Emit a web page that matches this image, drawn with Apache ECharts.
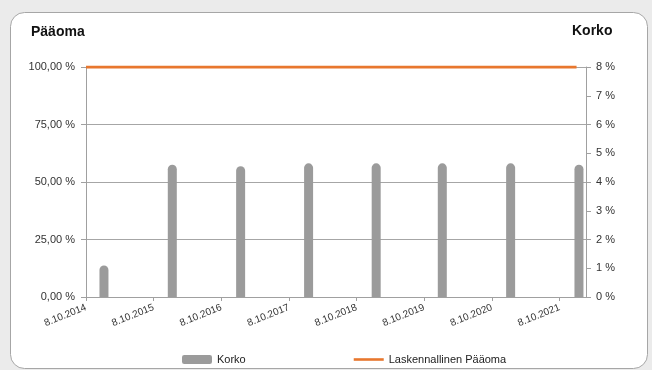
<!DOCTYPE html>
<html><head><meta charset="utf-8">
<script src="https://cdn.jsdelivr.net/npm/echarts@6/dist/echarts.min.js"></script>
<style>html,body{margin:0;padding:0;background:#ebebeb}#c{width:652px;height:370px}</style>
</head><body><div id="c"></div><script>
const tickLabels = ['8.10.2014','8.10.2015','8.10.2016','8.10.2017','8.10.2018','8.10.2019','8.10.2020','8.10.2021'];
const barDates = ['2015-01-13','2016-01-17','2017-01-20','2018-01-22','2019-01-22','2020-01-14','2021-01-17','2022-01-21'];
const korkoValues = [1.1, 4.6, 4.55, 4.65, 4.65, 4.65, 4.65, 4.6];
const lineDates = ['2014-10-08','2015-10-08','2016-10-08','2017-10-08','2018-10-08','2019-10-08','2020-10-08','2021-10-08','2022-01-08'];
const paaomaValues = [100, 100, 100, 100, 100, 100, 100, 100, 100];
const leftTicks = [0, 25, 50, 75, 100];
const rightTicks = [0, 1, 2, 3, 4, 5, 6, 7, 8];

function parseFi(s){ const p = s.split('.').map(Number); return Date.UTC(p[2], p[1]-1, p[0]); }
function parseIso(s){ const p = s.split('-').map(Number); return Date.UTC(p[0], p[1]-1, p[2]); }
const tickTs = tickLabels.map(parseFi);
function labelFor(v){
  let best = 0, bd = Infinity;
  tickTs.forEach((t,i)=>{ const d = Math.abs(t - v); if (d < bd) { bd = d; best = i; } });
  return bd < 86400000 ? tickLabels[best] : '';
}

const FONT = "'Liberation Sans', Arial, sans-serif";
const chart = echarts.init(document.getElementById('c'));
chart.setOption({
  animation: false,
  backgroundColor: '#ebebeb',
  textStyle: { fontFamily: FONT },
  graphic: [
    { type: 'rect', z: -10, shape: { x: 10.5, y: 12.5, width: 637, height: 356, r: 14 },
      style: { fill: '#ffffff', stroke: '#a6a6a6', lineWidth: 1 } },
    { type: 'text', left: 31, top: 25, style: { text: 'Pääoma', font: "bold 14px " + FONT, fill: '#111' } },
    { type: 'text', left: 572, top: 24, style: { text: 'Korko', font: "bold 14px " + FONT, fill: '#111' } }
  ],
  grid: { left: 86, right: 66, top: 67, bottom: 73 },
  legend: {
    left: 177, top: 349, itemWidth: 30, itemHeight: 9, itemGap: 108,
    textStyle: { fontSize: 11, color: '#222', fontFamily: FONT },
    data: [
      { name: 'Korko', icon: 'roundRect' },
      { name: 'Laskennallinen Pääoma', icon: 'path://M0,0 L0,0 M0,3.2 L30,3.2 L30,5.8 L0,5.8 Z M30,9 L30,9' }
    ]
  },
  xAxis: {
    type: 'value',
    min: tickTs[0],
    max: Date.UTC(2022, 1, 28),
    axisLine: { lineStyle: { color: '#a0a0a0' } },
    axisTick: { show: true, length: 4, lineStyle: { color: '#a0a0a0' }, customValues: tickTs },
    axisLabel: {
      customValues: tickTs, rotate: 22, fontSize: 10, color: '#333', margin: 10,
      formatter: function (v) { return labelFor(v); }
    },
    splitLine: { show: false }
  },
  yAxis: [
    {
      type: 'value', position: 'left', min: leftTicks[0], max: leftTicks[leftTicks.length-1], interval: 25,
      axisLine: { show: true, lineStyle: { color: '#a0a0a0' } },
      axisTick: { show: true, length: 5, lineStyle: { color: '#a0a0a0' } },
      axisLabel: { fontSize: 11, color: '#333', margin: 11,
        formatter: function (v) { return v.toFixed(2).replace('.', ',') + ' %'; } },
      splitLine: { show: true, lineStyle: { color: '#a6a6a6', width: 1 } }
    },
    {
      type: 'value', position: 'right', min: rightTicks[0], max: rightTicks[rightTicks.length-1], interval: 1,
      axisLine: { show: true, lineStyle: { color: '#a0a0a0' } },
      axisTick: { show: true, length: 5, lineStyle: { color: '#a0a0a0' } },
      axisLabel: { fontSize: 11, color: '#333', margin: 10, formatter: '{value} %' },
      splitLine: { show: false }
    }
  ],
  series: [
    {
      name: 'Korko', type: 'bar', yAxisIndex: 1, barWidth: 9,
      itemStyle: { color: '#9b9b9b', borderRadius: [5, 5, 0, 0] },
      data: barDates.map((d, i) => [parseIso(d), korkoValues[i]])
    },
    {
      name: 'Laskennallinen Pääoma', type: 'line', yAxisIndex: 0, symbol: 'none',
      lineStyle: { color: '#e8772e', width: 3 }, itemStyle: { color: '#e8772e' },
      data: lineDates.map((d, i) => [parseIso(d), paaomaValues[i]])
    }
  ]
});
</script></body></html>
